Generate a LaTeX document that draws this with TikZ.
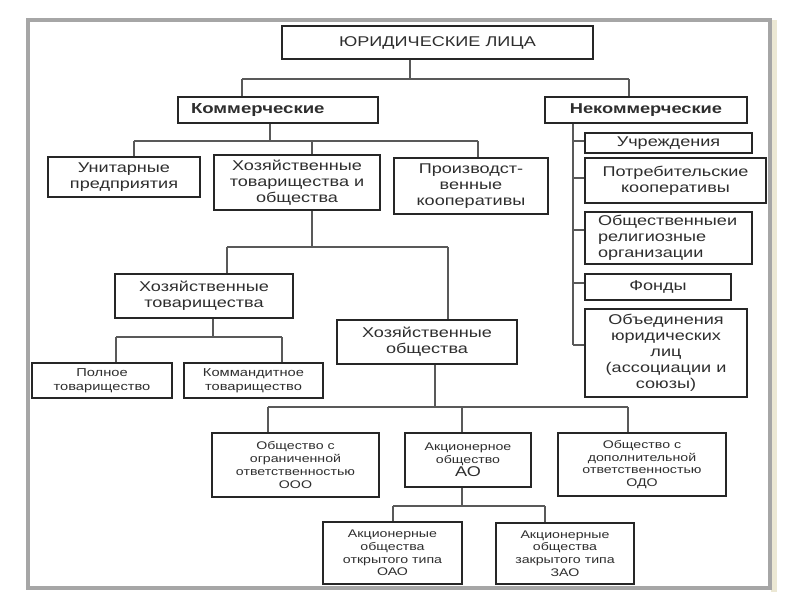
\documentclass[tikz,border=0pt]{standalone}
\usepackage{fontspec}
\setmainfont{Liberation Sans}[FakeStretch=1.28]
\begin{document}
\begin{tikzpicture}[x=0.75pt,y=-0.75pt,
  box/.style={draw=black!85, line width=1.3pt, fill=white, inner sep=0pt, align=center, text=black!82},
  conn/.style={draw=black!65, line width=0.9pt},
  fA/.style={font=\fontsize{10.6}{12}\selectfont},
  fB/.style={font=\fontsize{8.6}{10.6}\selectfont},
  fC/.style={font=\fontsize{8.3}{9.6}\selectfont}]
\useasboundingbox (0,0) rectangle (800,600);
\fill[white] (0,0) rectangle (800,600);
\fill[fill={rgb,255:red,236;green,232;blue,212}] (771,20) rectangle (777,592);
\draw[draw=gray!70, line width=2.4pt] (28,20) rectangle (770,588);

% nodes
\node[box, fA, minimum width=233.25pt, minimum height=24.75pt] (top) at (437.5,42.5) {ЮРИДИЧЕСКИЕ ЛИЦА};
\node[box, font=\fontsize{10.9}{12}\selectfont\bfseries, minimum height=19.5pt, text width=130.5pt, inner xsep=9.75pt, align=left] (kom) at (278,110) {Коммерческие};
\node[box, font=\fontsize{10.7}{12}\selectfont\bfseries, minimum width=151.5pt, minimum height=19.5pt] (nek) at (646,110) {Некоммерческие};

\node[box, fA, minimum width=114pt, minimum height=30pt] (uni) at (124,177) {Унитарные\\предприятия};
\node[box, fA, minimum width=124.5pt, minimum height=41.25pt] (hoz) at (297,182.5) {Хозяйственные\\товарищества и\\общества};
\node[box, fA, minimum width=115.5pt, minimum height=42pt] (proizv) at (471,186) {Производст-\\венные\\кооперативы};

\node[box, fA, minimum width=133.5pt, minimum height=33pt] (hozt) at (204,296) {Хозяйственные\\товарищества};
\node[box, fA, minimum width=135pt, minimum height=33pt] (hozo) at (427,342) {Хозяйственные\\общества};

\node[box, fB, minimum width=105pt, minimum height=26.25pt] (polnoe) at (102,380.5) {Полное\\товарищество};
\node[box, fB, minimum width=104.25pt, minimum height=26.25pt] (komm) at (253.5,380.5) {Коммандитное\\товарищество};

\node[box, fC, minimum width=125.25pt, minimum height=48pt] (ooo) at (295.5,465) {Общество с\\ограниченной\\ответственностью\\ООО};
\node[box, fC, minimum width=94.5pt, minimum height=40.5pt] (ao) at (468,460) {Акционерное\\общество\\{\fontsize{10.6}{12}\selectfont АО}};
\node[box, fC, minimum width=126pt, minimum height=47.25pt] (odo) at (642,464.5) {Общество с\\дополнительной\\ответственностью\\ОДО};

\node[box, fC, minimum width=104.25pt, minimum height=46.5pt] (oao) at (392.5,553) {Акционерные\\общества\\открытого типа\\ОАО};
\node[box, fC, minimum width=103.5pt, minimum height=45.75pt] (zao) at (565,553.5) {Акционерные\\общества\\закрытого типа\\ЗАО};

\node[box, fA, minimum width=125.25pt, minimum height=15pt] (uch) at (668.5,143) {Учреждения};
\node[box, fA, minimum width=135.75pt, minimum height=33.75pt] (potr) at (675.5,180.5) {Потребительские\\кооперативы};
\node[box, fA, text width=105.75pt, inner xsep=9.75pt, minimum height=39pt, align=left] (obsh) at (668.5,238) {Общественныеи\\религиозные\\организации};
\node[box, fA, minimum width=109.5pt, minimum height=19.5pt] (fond) at (658,287) {Фонды};
\node[box, fA, minimum width=121.5pt, minimum height=66pt] (obed) at (666,353) {Объединения\\юридических\\лиц\\(ассоциации и\\союзы)};

% junction coordinates
\coordinate (a1) at (410,79); \coordinate (a2) at (242,79); \coordinate (a3) at (629,79);
\coordinate (b0) at (270,141); \coordinate (b1) at (134,141); \coordinate (b2) at (312,141); \coordinate (b3) at (478,141);
\coordinate (c0) at (312,247); \coordinate (c1) at (227,247); \coordinate (c2) at (448,247);
\coordinate (d0) at (213,337); \coordinate (d1) at (116,337); \coordinate (d2) at (282,337);
\coordinate (e0) at (435,407); \coordinate (e1) at (268,407); \coordinate (e2) at (462,407); \coordinate (e3) at (628,407);
\coordinate (f0) at (462,506); \coordinate (f1) at (393,506); \coordinate (f2) at (545,506);
\coordinate (g1) at (573,141); \coordinate (g2) at (573,178); \coordinate (g3) at (573,230); \coordinate (g4) at (573,283); \coordinate (g5) at (573,345);

% connectors
\draw[conn] (top.south -| a1) -- (a1);
\draw[conn] (a2) -- (a3);
\draw[conn] (a2) -- (kom.north -| a2);
\draw[conn] (a3) -- (nek.north -| a3);

\draw[conn] (kom.south -| b0) -- (b0);
\draw[conn] (b1) -- (b3);
\draw[conn] (b1) -- (uni.north -| b1);
\draw[conn] (b2) -- (hoz.north -| b2);
\draw[conn] (b3) -- (proizv.north -| b3);

\draw[conn] (hoz.south -| c0) -- (c0);
\draw[conn] (c1) -- (c2);
\draw[conn] (c1) -- (hozt.north -| c1);
\draw[conn] (c2) -- (hozo.north -| c2);

\draw[conn] (hozt.south -| d0) -- (d0);
\draw[conn] (d1) -- (d2);
\draw[conn] (d1) -- (polnoe.north -| d1);
\draw[conn] (d2) -- (komm.north -| d2);

\draw[conn] (hozo.south -| e0) -- (e0);
\draw[conn] (e1) -- (e3);
\draw[conn] (e1) -- (ooo.north -| e1);
\draw[conn] (e2) -- (ao.north -| e2);
\draw[conn] (e3) -- (odo.north -| e3);

\draw[conn] (ao.south -| f0) -- (f0);
\draw[conn] (f1) -- (f2);
\draw[conn] (f1) -- (oao.north -| f1);
\draw[conn] (f2) -- (zao.north -| f2);

\draw[conn] (nek.south -| g5) -- (g5);
\draw[conn] (g1) -- (uch.west |- g1);
\draw[conn] (g2) -- (potr.west |- g2);
\draw[conn] (g3) -- (obsh.west |- g3);
\draw[conn] (g4) -- (fond.west |- g4);
\draw[conn] (g5) -- (obed.west |- g5);
\end{tikzpicture}
\end{document}
